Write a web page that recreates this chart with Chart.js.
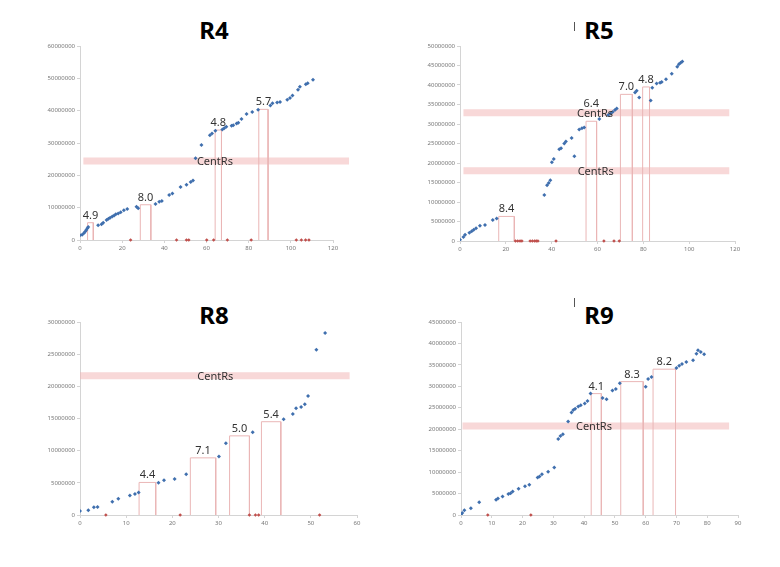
<!DOCTYPE html>
<html>
<head>
<meta charset="utf-8">
<script src="https://cdn.jsdelivr.net/npm/chart.js@4.4.1/dist/chart.umd.min.js"></script>
<style>
body { margin: 0; background: #fff; width: 780px; height: 567px; position: relative; overflow: hidden; font-family: "Noto Sans", sans-serif; }
.title { position: absolute; font-weight: bold; font-size: 24px; line-height: 25px; color: #000; transform: translateX(-50%); }
.tick { position: absolute; width: 1px; height: 9px; background: #555; }
.wrap { position: absolute; }
</style>
</head>
<body>
<div class="title" style="left:214px;top:17px">R4</div>
<div class="title" style="left:599px;top:17px">R5</div>
<div class="title" style="left:214px;top:302px">R8</div>
<div class="title" style="left:599px;top:302px">R9</div>
<div class="tick" style="left:574px;top:22px"></div>
<div class="tick" style="left:574px;top:298px"></div>

<div class="wrap" id="w4"><canvas id="c4"></canvas></div>
<div class="wrap" id="w5"><canvas id="c5"></canvas></div>
<div class="wrap" id="w8"><canvas id="c8"></canvas></div>
<div class="wrap" id="w9"><canvas id="c9"></canvas></div>

<script>
// ---- R4 ----
const r4X = [0, 1, 1.8, 2.5, 3, 3.5, 3.9, 8.6, 10.2, 11, 12.6, 13.5, 14.3, 15.3, 16.2, 17, 18.1, 19.3, 20.8, 22.4,
  26.8, 27.6, 35.8, 37.6, 38.8, 42.3, 43.8, 47.7, 50.5, 52.5, 53.6, 54.8, 57.6, 61.6, 62.6, 64.2, 67.5, 68.4, 69.4,
  71.9, 72.7, 74.3, 75.1, 76.6, 79, 81.7, 84.5, 90.3, 91.3, 93.5, 94.9, 98.3, 99.6, 100.8, 103.4, 104.3, 107.1, 108, 110.5];
const r4Y = [1.44e6, 1.6e6, 2.1e6, 2.6e6, 3.1e6, 3.6e6, 4.0e6, 4.6e6, 4.9e6, 5.3e6, 6.2e6, 6.6e6, 6.9e6, 7.3e6, 7.6e6, 8.0e6, 8.2e6, 8.6e6, 9.2e6, 9.6e6,
  10.3e6, 9.8e6, 11.1e6, 11.8e6, 12.1e6, 13.9e6, 14.4e6, 16.4e6, 17.1e6, 17.9e6, 18.4e6, 25.3e6, 29.4e6, 32.4e6, 32.9e6, 33.8e6, 34.2e6, 34.6e6, 35e6,
  35.3e6, 35.5e6, 36e6, 36.3e6, 37.4e6, 39e6, 39.6e6, 40.3e6, 41.6e6, 42.3e6, 42.5e6, 42.7e6, 43.4e6, 43.9e6, 44.7e6, 46.5e6, 47.4e6, 48.2e6, 48.5e6, 49.6e6];
const r4Zero = [24, 45.8, 50.5, 51.6, 60.1, 63.4, 69.9, 81.2, 102.6, 105, 107, 108.6];
const r4BoxLeft = [3.6, 28.6, 64.1, 84.8];
const r4BoxRight = [6.3, 33.6, 67.1, 89.2];
const r4BoxTop = [5.35e6, 10.9e6, 34e6, 40.4e6];
const r4BoxLabel = ['4.9', '8.0', '4.8', '5.7'];
const r4BandY = [24.4e6];
const r4BandFrom = [1.6];
const r4BandTo = [127.6];
const r4BandLabelX = [64];

// ---- R5 ----
const r5X = [0, 1.5, 2.2, 4.1, 5.1, 6, 7, 8.7, 10.9, 14.3, 16, 36.8, 38, 38.7, 39.4, 40.1, 40.9, 43.3, 44.1, 45.5, 46.2, 48.7, 49.9,
  52, 53.2, 54.2, 60.8, 64.7, 65.7, 66.6, 67.6, 68.4, 76.4, 77.1, 78.2, 83.2, 83.9, 85.8, 87.3, 88, 89.9, 92.4, 94.8, 95.5, 96.3, 97];
const r5Y = [0.3e6, 1.0e6, 1.6e6, 2.1e6, 2.5e6, 2.9e6, 3.3e6, 3.9e6, 4.1e6, 5.4e6, 5.8e6, 11.8e6, 14.3e6, 14.9e6, 15.6e6, 20.2e6, 21e6, 23.5e6, 23.8e6, 25e6, 25.5e6, 26.4e6, 21.7e6,
  28.6e6, 28.9e6, 29.1e6, 31.3e6, 32.3e6, 32.7e6, 33.1e6, 33.6e6, 34e6, 38.1e6, 38.5e6, 36.8e6, 36e6, 39.3e6, 40.4e6, 40.6e6, 40.8e6, 41.5e6, 42.9e6, 44.7e6, 45.3e6, 45.7e6, 46e6];
const r5Zero = [24.2, 25.2, 26.2, 27, 30.6, 31.6, 32.6, 33.3, 34, 41.9, 62.8, 67.2, 69.5];
const r5BoxLeft = [16.9, 55, 70, 79.7];
const r5BoxRight = [23.7, 59.6, 75.2, 82.7];
const r5BoxTop = [6.3e6, 30.7e6, 37.6e6, 39.5e6];
const r5BoxLabel = ['8.4', '6.4', '7.0', '4.8'];
const r5BandY = [32.9e6, 18e6];
const r5BandFrom = [1.5, 1.5];
const r5BandTo = [117.5, 117.5];
const r5BandLabelX = [58.9, 59.2];

// ---- R8 ----
const r8X = [0, 1.8, 3, 3.8, 7, 8.3, 10.8, 11.9, 12.7, 17, 18.2, 20.5, 23, 30.1, 31.6, 37.4, 44.1, 46.1, 46.8, 47.9, 48.7, 49.4, 51.2, 53.1];
const r8Y = [0.62e6, 0.72e6, 1.19e6, 1.24e6, 2.07e6, 2.53e6, 3.05e6, 3.25e6, 3.5e6, 5.0e6, 5.4e6, 5.6e6, 6.35e6, 9.1e6, 11.15e6, 12.85e6, 14.9e6, 15.7e6, 16.6e6, 16.8e6, 17.2e6, 18.5e6, 25.7e6, 28.3e6];
const r8Zero = [5.6, 21.7, 36.7, 38, 38.7, 51.9];
const r8BoxLeft = [12.8, 23.9, 32.4, 39.3];
const r8BoxRight = [16.4, 29.4, 36.7, 43.5];
const r8BoxTop = [5.06e6, 8.88e6, 12.3e6, 14.5e6];
const r8BoxLabel = ['4.4', '7.1', '5.0', '5.4'];
const r8BandY = [21.65e6];
const r8BandFrom = [0];
const r8BandTo = [58.4];
const r8BandLabelX = [29.3];

// ---- R9 ----
const r9X = [0, 0.4, 1.1, 3.2, 5.9, 11.4, 12, 13.5, 15.4, 16.1, 16.8, 18.7, 20.8, 22.2, 24.9, 25.5, 26.3, 28.3, 30.3, 31.6, 32.3, 33.1,
  34.8, 35.9, 36.5, 37.1, 38.1, 38.9, 40.2, 41.1, 42.1, 46, 47.3, 49.2, 50.3, 51.6, 60, 60.8, 61.9, 70, 70.9, 71.8, 73.2, 75.4, 76.5, 77, 77.9, 79];
const r9Y = [0.08e6, 0.45e6, 1.08e6, 1.55e6, 3.0e6, 3.56e6, 3.87e6, 4.3e6, 4.9e6, 5.1e6, 5.5e6, 6.1e6, 6.7e6, 7.05e6, 8.75e6, 9e6, 9.5e6, 10.1e6, 11.1e6, 17.7e6, 18.4e6, 18.8e6,
  21.8e6, 23.9e6, 24.5e6, 24.8e6, 25.3e6, 25.6e6, 26e6, 26.6e6, 28.3e6, 27.3e6, 27e6, 29e6, 29.4e6, 30.7e6, 29.9e6, 31.7e6, 32.2e6, 34.3e6, 34.8e6, 35.2e6, 35.7e6, 36.1e6, 37.6e6, 38.4e6, 38e6, 37.5e6];
const r9Zero = [8.7, 22.7];
const r9BoxLeft = [42.3, 51.9, 62.4];
const r9BoxRight = [45.6, 59.2, 69.7];
const r9BoxTop = [28.3e6, 31.1e6, 34e6];
const r9BoxLabel = ['4.1', '8.3', '8.2'];
const r9BandY = [20.75e6];
const r9BandFrom = [0.5];
const r9BandTo = [87.1];
const r9BandLabelX = [43.2];

const blue = '#3f6fae';
const red = '#c0504d';
const boxColor = '#eab6b6';
const bandColor = 'rgba(242,178,178,0.5)';
const axisColor = '#d4d4d4';
const tickFont = { family: '"Noto Sans"', size: 6 };

function makeChart(canvasId, wrapId, area, xMax, xStep, yMax, yStep, d) {
    const wrap = document.getElementById(wrapId);
    wrap.style.left = (area.left - 46) + 'px';
    wrap.style.top = (area.top - 10) + 'px';
    wrap.style.width = (area.right - area.left + 46 + 26) + 'px';
    wrap.style.height = (area.bottom - area.top + 10 + 20) + 'px';

    const datasets = [];
    // CentRs bands
    d.bandY.forEach((y, i) => {
        datasets.push({
            type: 'line',
            data: [{ x: d.bandFrom[i], y: y }, { x: d.bandTo[i], y: y }],
            borderColor: bandColor,
            borderWidth: 7,
            borderCapStyle: 'butt',
            pointRadius: 0,
            clip: false,
            order: 4
        });
    });
    // red boxes
    d.boxLeft.forEach((l, i) => {
        const r = d.boxRight[i], t = d.boxTop[i];
        datasets.push({
            type: 'line',
            data: [{ x: l, y: 0 }, { x: l, y: t }, { x: r, y: t }, { x: r, y: 0 }],
            borderColor: boxColor,
            borderWidth: 1,
            pointRadius: 0,
            tension: 0,
            order: 3
        });
    });
    datasets.push({
        type: 'scatter',
        data: d.zero.map(x => ({ x: x, y: 0 })),
        backgroundColor: red,
        borderColor: red,
        borderWidth: 0,
        pointStyle: 'rectRot',
        pointRadius: 1.8,
        clip: false,
        order: 2
    });
    datasets.push({
        type: 'scatter',
        data: d.x.map((x, i) => ({ x: x, y: d.y[i] })),
        backgroundColor: blue,
        borderColor: blue,
        borderWidth: 0,
        pointStyle: 'rectRot',
        pointRadius: 2,
        order: 1
    });

    const labels = {
        id: 'labels',
        afterDatasetsDraw(chart) {
            const ctx = chart.ctx, xs = chart.scales.x, ys = chart.scales.y;
            ctx.save();
            ctx.font = '11px "Noto Sans"';
            ctx.fillStyle = '#333';
            ctx.textAlign = 'center';
            ctx.textBaseline = 'alphabetic';
            d.boxLeft.forEach((l, i) => {
                const cx = xs.getPixelForValue((l + d.boxRight[i]) / 2);
                const lift = (d.lift && d.lift[i]) || 0;
                ctx.fillText(d.boxLabel[i], cx, ys.getPixelForValue(d.boxTop[i]) - 4 - lift);
            });
            ctx.textBaseline = 'middle';
            d.bandY.forEach((y, i) => {
                ctx.fillText('CentRs', xs.getPixelForValue(d.bandLabelX[i]), ys.getPixelForValue(y) + 1);
            });
            ctx.restore();
        }
    };

    new Chart(document.getElementById(canvasId).getContext('2d'), {
        type: 'scatter',
        data: { datasets: datasets },
        options: {
            responsive: true,
            maintainAspectRatio: false,
            animation: false,
            layout: { padding: { left: 0, right: 26, top: 10, bottom: 0 } },
            plugins: { legend: { display: false }, tooltip: { enabled: false } },
            scales: {
                x: {
                    type: 'linear',
                    min: 0,
                    max: xMax,
                    afterFit: s => { s.height = 20; },
                    border: { color: axisColor },
                    grid: { drawOnChartArea: false, drawTicks: true, tickLength: 3, color: axisColor },
                    ticks: { stepSize: xStep, font: tickFont, color: '#777', padding: 2, maxRotation: 0 }
                },
                y: {
                    min: 0,
                    max: yMax,
                    afterFit: s => { s.width = 46; },
                    border: { color: axisColor },
                    grid: { drawOnChartArea: false, drawTicks: true, tickLength: 3, color: axisColor },
                    ticks: { stepSize: yStep, font: tickFont, color: '#777', padding: 2, callback: v => String(v) }
                }
            }
        },
        plugins: [labels]
    });
}

makeChart('c4', 'w4', { left: 80, right: 333, top: 46, bottom: 240 }, 120, 20, 60000000, 10000000, {
    x: r4X, y: r4Y, zero: r4Zero, boxLeft: r4BoxLeft, boxRight: r4BoxRight, boxTop: r4BoxTop, boxLabel: r4BoxLabel,
    bandY: r4BandY, bandFrom: r4BandFrom, bandTo: r4BandTo, bandLabelX: r4BandLabelX
});
makeChart('c5', 'w5', { left: 460, right: 735, top: 46, bottom: 241 }, 120, 20, 50000000, 5000000, {
    x: r5X, y: r5Y, zero: r5Zero, boxLeft: r5BoxLeft, boxRight: r5BoxRight, boxTop: r5BoxTop, boxLabel: r5BoxLabel,
    bandY: r5BandY, bandFrom: r5BandFrom, bandTo: r5BandTo, bandLabelX: r5BandLabelX, lift: [0, 10, 0, 0]
});
makeChart('c8', 'w8', { left: 80, right: 357, top: 322, bottom: 515 }, 60, 10, 30000000, 5000000, {
    x: r8X, y: r8Y, zero: r8Zero, boxLeft: r8BoxLeft, boxRight: r8BoxRight, boxTop: r8BoxTop, boxLabel: r8BoxLabel,
    bandY: r8BandY, bandFrom: r8BandFrom, bandTo: r8BandTo, bandLabelX: r8BandLabelX
});
makeChart('c9', 'w9', { left: 461, right: 738, top: 322, bottom: 515 }, 90, 10, 45000000, 5000000, {
    x: r9X, y: r9Y, zero: r9Zero, boxLeft: r9BoxLeft, boxRight: r9BoxRight, boxTop: r9BoxTop, boxLabel: r9BoxLabel,
    bandY: r9BandY, bandFrom: r9BandFrom, bandTo: r9BandTo, bandLabelX: r9BandLabelX
});
</script>
</body>
</html>
